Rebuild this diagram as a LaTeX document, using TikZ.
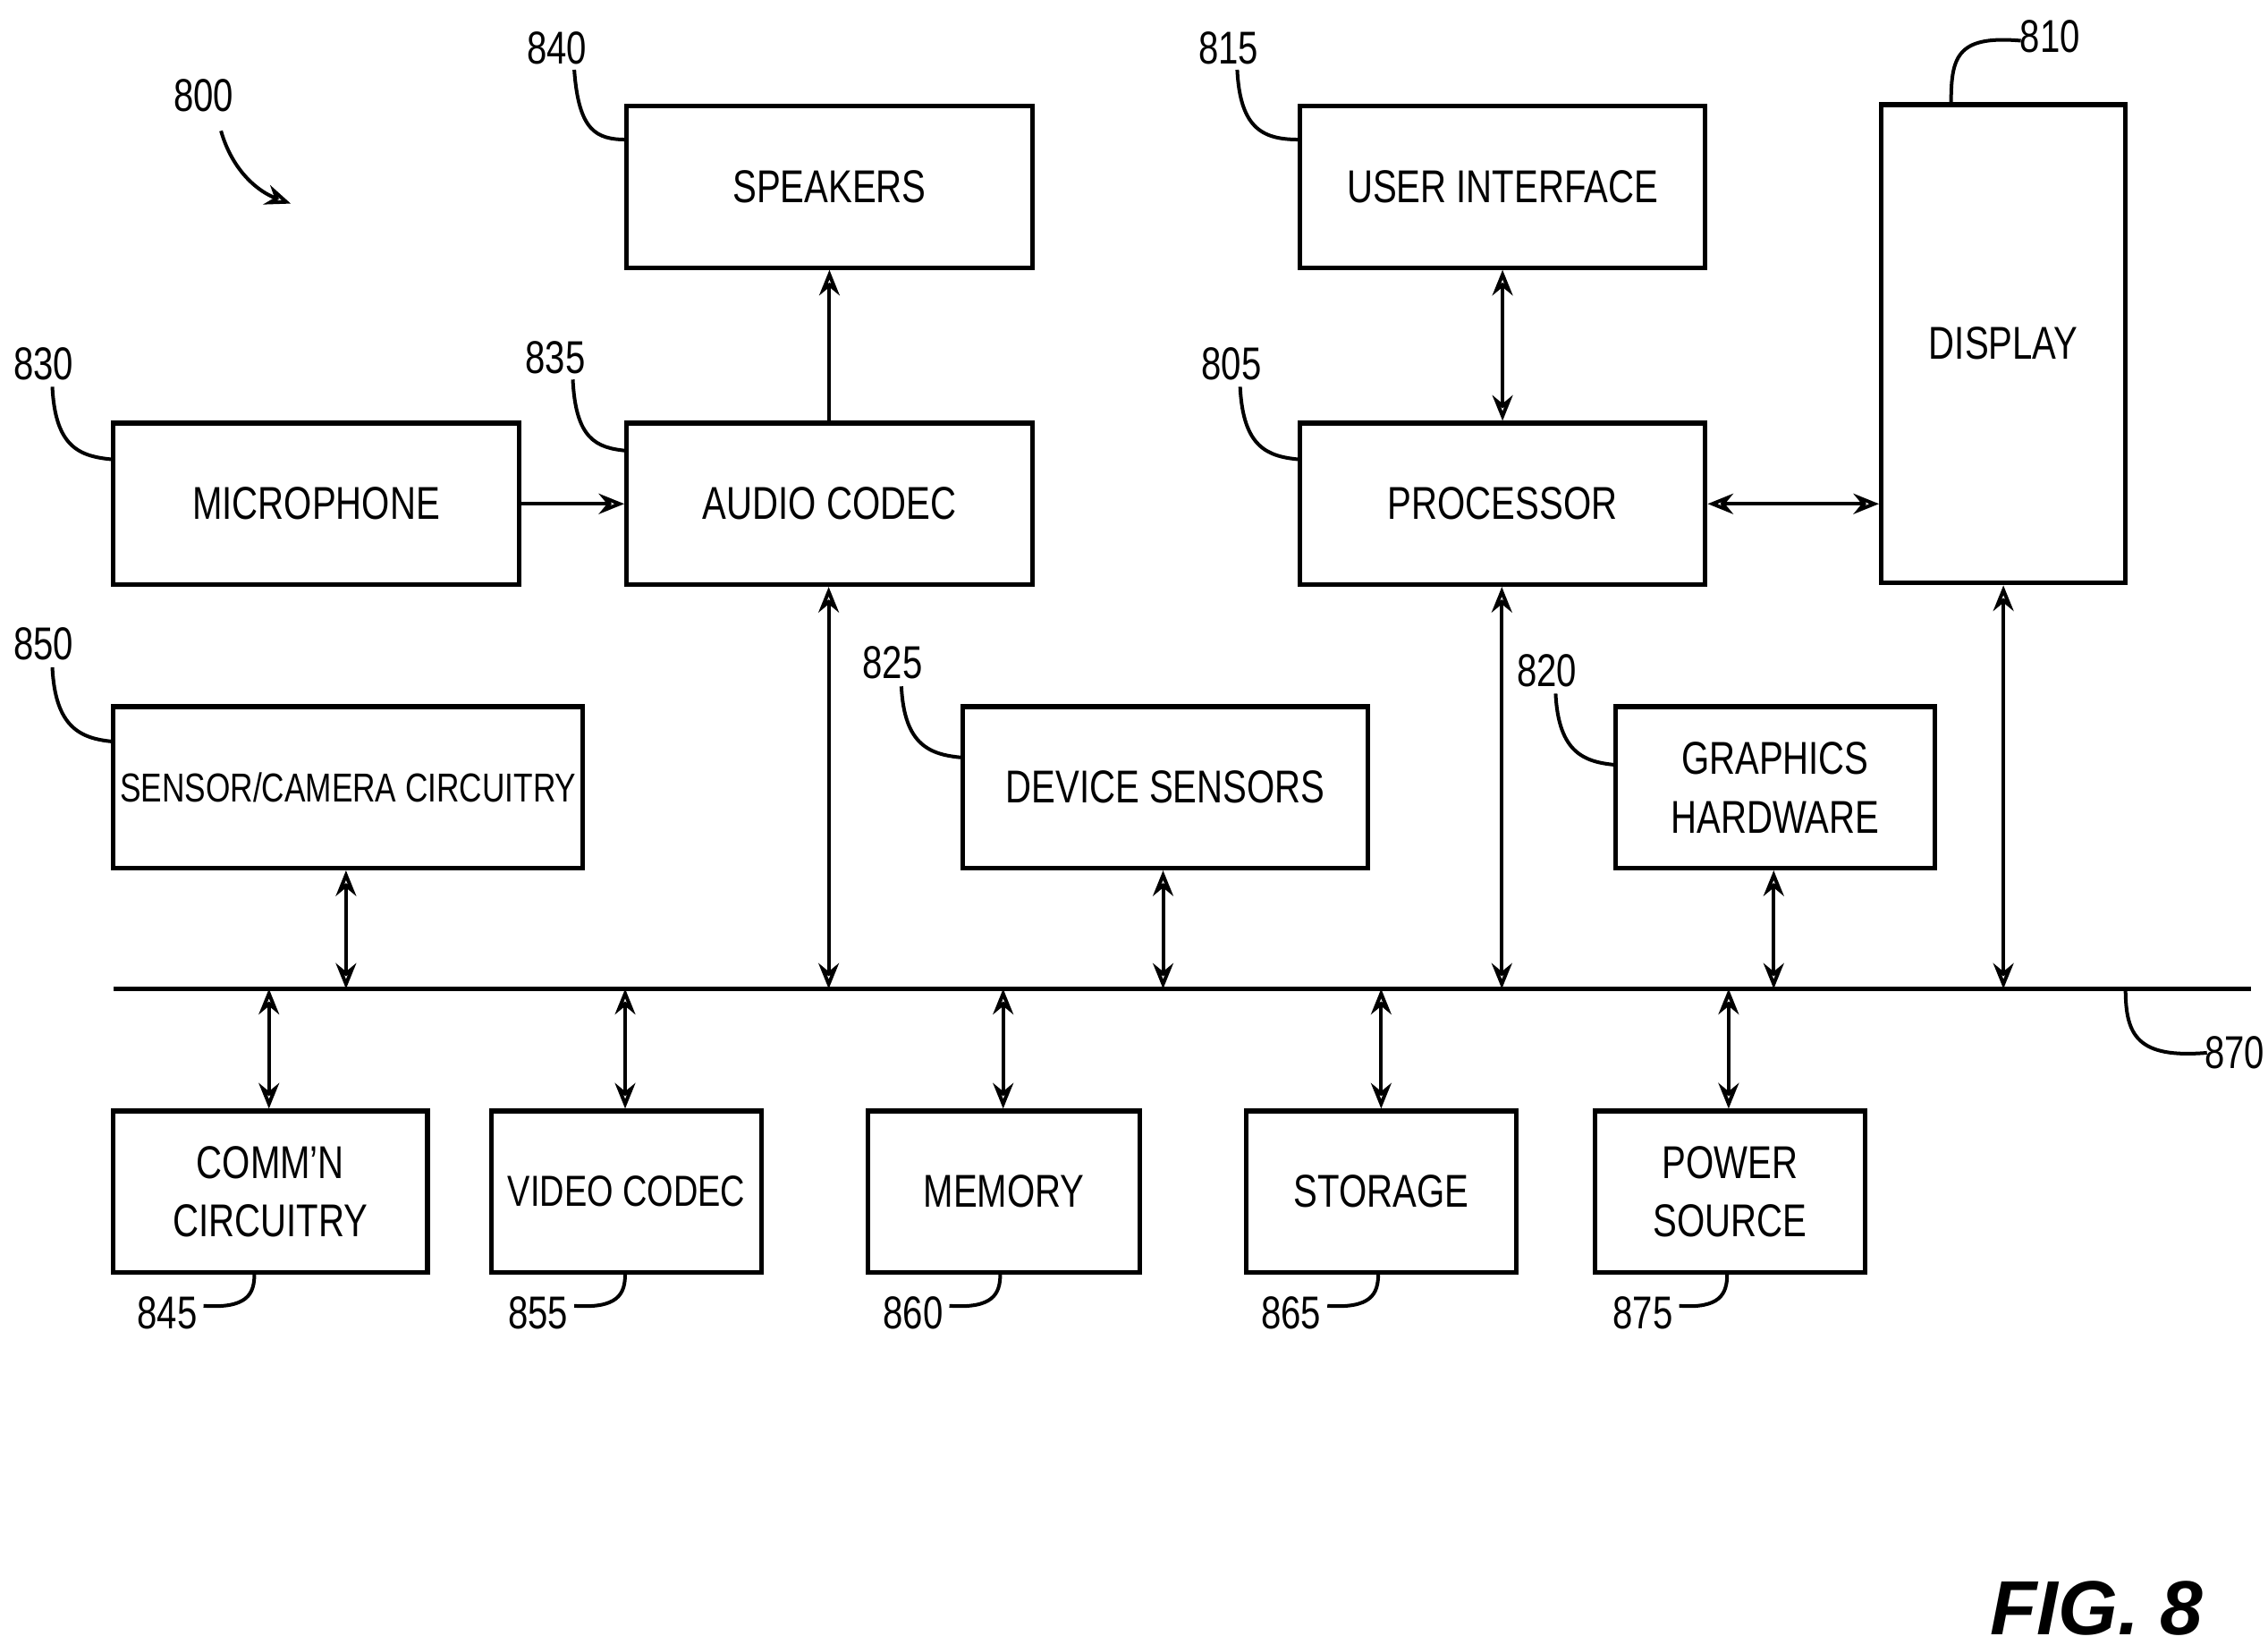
\documentclass[tikz,border=0pt]{standalone}
\usepackage{fontspec}
\setmainfont{Liberation Sans}[FakeStretch=0.78]
\newfontfamily\figfont{Liberation Sans}
\usetikzlibrary{arrows.meta}
\begin{document}
\begin{tikzpicture}[x=0.01cm,y=-0.01cm,
 box/.style={draw,line width=0.9pt,inner sep=0pt,font=\fontsize{9}{11.5}\selectfont,align=center},
 lead/.style={line width=0.7pt},
 lab/.style={font=\fontsize{9}{11}\selectfont},
 a1/.style={line width=0.7pt,-{Stealth[length=5pt,width=4pt,open]}},
 a2/.style={line width=0.7pt,{Stealth[length=5pt,width=4pt,open]}-{Stealth[length=5pt,width=4pt,open]}}]
\useasboundingbox (0,0) rectangle (1560,1131);
\node[box,minimum width=279*0.01cm,minimum height=111*0.01cm] (spk) at (570.5,128.5) {SPEAKERS};
\node[box,minimum width=279*0.01cm,minimum height=111*0.01cm] (ui) at (1033.5,128.5) {USER INTERFACE};
\node[box,minimum width=168*0.01cm,minimum height=329*0.01cm] (disp) at (1378,236.5) {};
\node[font=\fontsize{9}{11}\selectfont] (displ) at (1378,236) {DISPLAY};
\node[box,minimum width=279*0.01cm,minimum height=111*0.01cm] (mic) at (217.5,346.5) {MICROPHONE};
\node[box,minimum width=279*0.01cm,minimum height=111*0.01cm] (ac) at (570.5,346.5) {AUDIO CODEC};
\node[box,minimum width=279*0.01cm,minimum height=111*0.01cm] (proc) at (1033.5,346.5) {PROCESSOR};
\node[box,minimum width=323*0.01cm,minimum height=111*0.01cm,font=\fontsize{7.9}{10}\selectfont] (sc) at (239.5,541.5) {SENSOR/CAMERA CIRCUITRY};
\node[box,minimum width=279*0.01cm,minimum height=111*0.01cm] (ds) at (801.5,541.5) {DEVICE SENSORS};
\node[box,minimum width=220*0.01cm,minimum height=111*0.01cm] (gh) at (1221,541.5) {GRAPHICS\\HARDWARE};
\node[box,minimum width=216*0.01cm,minimum height=111*0.01cm] (cc) at (186,819.5) {COMM'N\\CIRCUITRY};
\node[box,minimum width=186*0.01cm,minimum height=111*0.01cm,font=\fontsize{8.5}{10}\selectfont] (vc) at (431,819.5) {VIDEO CODEC};
\node[box,minimum width=187*0.01cm,minimum height=111*0.01cm] (mem) at (690.5,819.5) {MEMORY};
\node[box,minimum width=186*0.01cm,minimum height=111*0.01cm] (sto) at (950,819.5) {STORAGE};
\node[box,minimum width=186*0.01cm,minimum height=111*0.01cm] (pw) at (1190,819.5) {POWER\\SOURCE};
\coordinate (b0) at (78,680); \coordinate (b1) at (1548,680);
\draw[line width=0.9pt] (b0) -- (b1);
\draw[a1] (mic) -- (ac);
\draw[a1] (ac) -- (spk);
\draw[a2] (ui) -- (proc);
\draw[a2] (proc) -- (disp.west|-proc);
\foreach \n/\x in {sc/238,ac/570,ds/800,proc/1033,gh/1220,disp/1378}{
 \coordinate (t\n) at (\x,680);
 \draw[a2] (\n.south-|t\n) -- (t\n);}
\foreach \n/\x in {cc/185,vc/430,mem/690,sto/950,pw/1189}{
 \coordinate (t\n) at (\x,680);
 \draw[a2] (t\n) -- (\n.north-|t\n);}
\node[lab] (l840) at (383,33) {840}; \draw[lead] (395,48) .. controls (398,90) and (410,96) .. (431,96);
\node[lab] (l815) at (845,33) {815}; \draw[lead] (851,48) .. controls (853,90) and (870,96) .. (894,96);
\node[lab] (l810) at (1410,25) {810}; \draw[lead] (1390,28) .. controls (1345,24) and (1342,40) .. (1342,72);
\node[lab] (l830) at (30,250) {830}; \draw[lead] (36,266) .. controls (38,308) and (55,314) .. (78,316);
\node[lab] (l835) at (382,246) {835}; \draw[lead] (394,261) .. controls (396,302) and (410,308) .. (431,310);
\node[lab] (l805) at (847,250) {805}; \draw[lead] (853,266) .. controls (855,308) and (872,314) .. (894,316);
\node[lab] (l850) at (30,443) {850}; \draw[lead] (36,459) .. controls (38,500) and (55,508) .. (78,510);
\node[lab] (l825) at (614,456) {825}; \draw[lead] (620,472) .. controls (622,513) and (640,519) .. (662,521);
\node[lab] (l820) at (1064,461) {820}; \draw[lead] (1070,477) .. controls (1072,518) and (1090,524) .. (1111,526);
\node[lab] (l870) at (1537,724) {870}; \draw[lead] (1518,724) .. controls (1470,728) and (1462,712) .. (1462,680);
\foreach \t/\x/\e in {845/115/175,855/370/430,860/628/688,865/888/948,875/1130/1188}{
 \node[lab] (l\t) at (\x,903) {\t};
 \draw[lead] (\x+25,898) .. controls (\e-5,900) and (\e,890) .. (\e,876);}
\node[lab] (l800) at (140,66) {800};
\draw[line width=0.7pt,-{Stealth[length=5pt,width=4pt,open]}] (152,90) .. controls (160,118) and (178,132) .. (200,140);
\node[font=\figfont\bfseries\itshape\fontsize{15}{18}\selectfont] (fig) at (1442,1106) {FIG. 8};
\end{tikzpicture}
\end{document}
